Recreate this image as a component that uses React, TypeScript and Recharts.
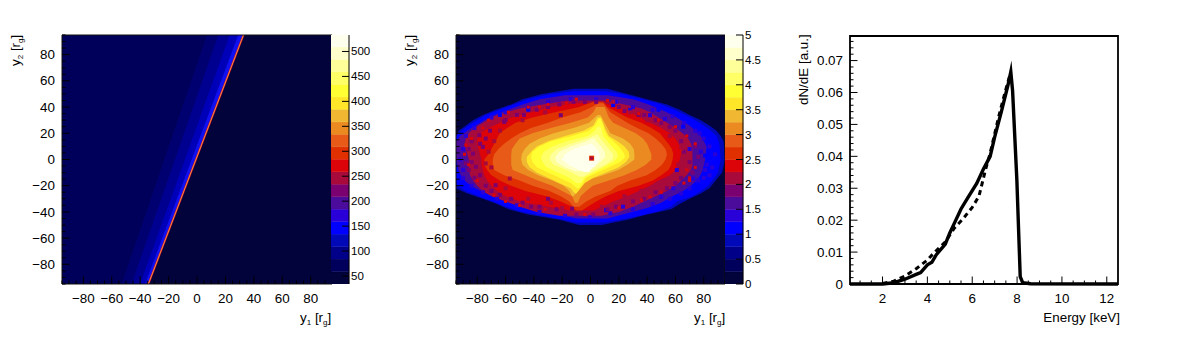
import { Area, Bar, BarChart, ComposedChart, Line, LineChart, ReferenceArea, Scatter, XAxis, YAxis } from "recharts"

const FONT = "'Liberation Sans', Arial, sans-serif"

// shared palette, lowest level first
const palette = [
  "#03033b", "#00005c", "#000088", "#0008b8", "#0000ff", "#2a00d8", "#4b0c9c", "#7b0070", "#a80a3c", "#dc0408",
  "#e03000", "#e85a18", "#ea8a20", "#f0b832", "#ffe628", "#ffff33", "#ffff66", "#ffff99", "#ffffcc", "#ffffee",
]

const mapTicks = [
  -95, -90, -85, -80, -75, -70, -65, -60, -55, -50, -45, -40, -35, -30, -25, -20, -15, -10, -5, 0, 5, 10, 15, 20, 25,
  30, 35, 40, 45, 50, 55, 60, 65, 70, 75, 80, 85, 90, 95,
]
const mapLabels = [-80, -60, -40, -20, 0, 20, 40, 60, 80]

// left map: bands of [colour, low x at y2=-95, low x at y2=95, high x at y2=-95, high x at y2=95]
const stripeBands: [string, number, number, number, number][] = [
  ["#03033b", -95, -95, 95, 95],
  ["#00005a", -95, -95, -34, 33],
  ["#000070", -53, 7, -34, 33],
  ["#000090", -46, 15, -34, 33],
  ["#0000b8", -40, 23, -34, 33],
  ["#1010f0", -36.5, 29, -34, 33],
  ["#d81c1c", -34.9, 32, -33.5, 33.4],
  ["#f6c468", -34.4, 32.5, -34, 32.9],
]

// middle map: contour rows [y2, left x, right x]
const edgeRows = [[-50, -8, 8], [-46, -22, 26], [-42, -44, 40], [-38, -58, 57], [-34, -66, 63], [-30, -76, 70], [-26, -87, 78], [-22, -95, 84], [-18, -95, 87], [-14, -95, 90], [-10, -95, 93], [0, -95, 95], [14, -95, 94], [18, -95, 92], [22, -93, 89], [26, -88, 84], [30, -83, 78], [34, -76, 70], [38, -67, 63], [42, -56, 54], [46, -48, 40], [50, -34, 26], [54, -12, 12]]
const blueRows = [[-48, -10, 10], [-44, -28, 30], [-40, -48, 46], [-36, -60, 57], [-32, -69, 61], [-28, -79, 72], [-24, -88, 78], [-20, -94, 83], [-16, -95, 86], [-10, -95, 90], [0, -95, 92], [12, -95, 91], [18, -95, 89], [22, -91, 85], [26, -86, 80], [30, -80, 74], [34, -74, 67], [38, -64, 59], [42, -54, 50], [46, -44, 37], [50, -28, 22], [52, -12, 10]]
const violetRows = [[-45, -10, 12], [-41, -28, 26], [-37, -46, 40], [-33, -56, 50], [-29, -66, 56], [-25, -76, 64], [-21, -83, 70], [-17, -88, 74], [-13, -91, 77], [-9, -93, 79], [0, -95, 81], [10, -95, 82], [14, -95, 80], [18, -92, 78], [22, -87, 74], [26, -81, 70], [30, -75, 64], [34, -68, 58], [38, -58, 50], [42, -48, 41], [46, -36, 30], [49, -18, 12]]
const crimsonRows = [[-43, -22, 8], [-40, -38, 20], [-36, -50, 30], [-32, -60, 38], [-28, -70, 46], [-24, -76, 54], [-20, -80, 60], [-16, -83, 64], [-12, -85, 68], [-8, -86, 71], [-4, -86, 72], [0, -86, 72], [4, -87, 72], [8, -88, 72], [12, -89, 71], [16, -88, 69], [20, -86, 65], [24, -82, 60], [28, -76, 54], [32, -70, 48], [36, -60, 42], [39, -50, 36], [42, -34, 24], [45, -16, 10]]
const redRows = [[-39, -14, 2], [-36, -30, 8], [-32, -50, 16], [-28, -60, 26], [-24, -66, 34], [-20, -70, 42], [-16, -73, 48], [-12, -75, 56], [-8, -76, 60], [-4, -77, 62], [0, -77, 63], [4, -78, 64], [8, -79, 64], [12, -80, 62], [16, -80, 60], [20, -78, 56], [24, -72, 50], [28, -64, 42], [32, -56, 35], [36, -42, 28], [40, -28, 20], [43, -12, 10]]
const scarletRows = [[-39, -10, -6], [-36, -13, -2], [-32, -21, 4], [-28, -31, 11], [-24, -46, 20], [-20, -56, 34], [-16, -64, 44], [-12, -70, 50], [-8, -73, 55], [-4, -75, 57], [0, -75, 58], [4, -72, 58.5], [8, -70, 57.5], [12, -68, 55], [16, -66, 52], [20, -64, 49], [24, -59, 43], [28, -53, 36], [32, -41, 26], [36, -25, 19], [40, -8, 12], [44, 2, 9]]
const burntRows = [[-36, -12, -8], [-32, -15, -3], [-28, -21, 4], [-24, -29, 14], [-20, -41, 19], [-16, -50, 28], [-12, -61, 39.7], [-8, -68, 46], [-4, -69, 50.5], [0, -69, 53], [4, -68, 54], [8, -65, 53], [12, -61, 50], [16, -56, 46], [20, -50, 41], [24, -42, 33], [28, -30, 26], [32, -20, 20], [36, -7, 14], [40, 1, 11], [43, 6, 9]]
const orangeRows = [[-33, -11, -9], [-28, -13, -7], [-24, -20, -3], [-20, -27, 1.5], [-16, -37, 13], [-12, -46, 24], [-8, -55, 32.6], [-4, -56, 39], [0, -56, 43], [4, -56, 43], [8, -55.5, 41.5], [12, -53, 40], [16, -50, 37], [20, -41, 32], [24, -28, 24], [28, -14, 16], [32, -2, 13], [36, 2, 11.5], [40, 4, 10]]
const goldRows = [[-28, -13, -12], [-24, -15, -9], [-20, -19, -6], [-16, -27, -3], [-12, -37, 9], [-8, -44, 19.6], [-4, -48, 26], [0, -49, 31], [4, -48.5, 31], [8, -46.5, 30.5], [12, -43, 28], [16, -36, 23], [20, -26, 14], [24, -12, 12], [28, -1, 10], [32, 3, 8], [34, 5, 7]]
const amberRows = [[-26, -11, -10], [-22, -14, -7], [-18, -22, -4], [-14, -30, 2], [-10, -38, 11], [-6, -43, 20], [-2, -45, 25], [2, -45, 27.5], [6, -42, 27], [10, -38, 24], [14, -30, 19], [18, -18, 13], [22, -5, 11], [26, 2, 9.5], [32, 5, 7.5]]
const yellowRows = [[-22, -9.5, -8], [-18, -14, -5.5], [-14, -22, -3], [-10, -30, 5], [-6, -38, 13], [-2, -41, 21], [2, -42, 24.5], [6, -41, 23], [10, -36, 20], [14, -28, 16], [18, -13, 12], [22, -1, 10], [26, 3, 9], [31, 6, 7]]
const lemonRows = [[-18, -10, -7], [-14, -15, -4.5], [-10, -23, 2], [-6, -31, 9], [-2, -34, 16], [2, -35, 19.5], [6, -33, 18.5], [10, -27, 15], [14, -17, 12], [18, -2, 9], [22, 3, 8], [25, 5, 7]]
const paleRows = [[-13, -8, -5], [-8, -17, 3], [-4, -26, 10.5], [0, -29, 15.5], [4, -28, 16], [8, -24, 13], [12, -14, 10], [16, -2, 7], [19, 4, 5]]
const creamRows = [[-9, -11, -3], [-6, -18, 3], [-2, -24, 7], [2, -25, 10.5], [6, -22, 10], [10, -14, 7.5], [14, -3, 4], [16, 1, 3]]
const whiteRows = [[-9.5, -4, -1], [-8, -8, 0], [-4, -15.5, 3.5], [0, -20, 6.5], [4, -18, 6.5], [8, -12, 4.5], [12, 0, 1]]

const outerContours: [number, number[][]][] = [[3, edgeRows], [4, blueRows], [6, violetRows], [8, crimsonRows], [9, redRows]]
const innerContours: [number, number[][]][] = [
  [10, scarletRows], [11, burntRows], [12, orangeRows], [13, goldRows], [14, amberRows], [15, yellowRows],
  [16, lemonRows], [17, paleRows], [18, creamRows], [19, whiteRows],
]

// mottled patches in the outer ring, [x, y2]
const rimSpots = [[83, 0.7], [85, -2], [81, 3], [86, 2], [65.5, 25], [16, 41.5], [68, -27], [70, 29], [48, 38], [-64, 34], [-44, 38], [76, -20]]
const indigoSpots = [[-70, 32], [-60, 36], [-44, 40], [-30, 44], [-14, 46], [4, 46], [18, 44], [30, 40], [44, 38], [58, 33], [66, 28], [74, 22], [80, 16], [84, 10], [78, 6], [82, -4], [86, -6], [88, 4], [76, -16], [80, -14], [84, -12], [70, -22], [64, -26], [56, -30], [44, -34], [30, -38], [14, -41], [-90, 8], [-92, 0], [-90, -8], [-88, 18], [-82, 24], [-90, -14], [-84, -20], [-76, -25], [-66, -30], [-52, -35], [-36, -40], [-18, -43], [0, -44], [42, 33.8], [28, 38], [52.6, 31], [58.5, -22], [50, -28.5], [23, -36], [11, -38.7], [72.6, -14.5], [81, -8], [70, 8], [61, -8], [77, 20]]
const plumSpots = [[-60, 30], [-52, 34], [-47, 34], [-38, 38], [-30, 40], [-22, 42], [-12, 44], [-4, 44], [4, 44], [20, 40], [24, 37], [34, 34], [38, 34], [46, 30], [50, 28], [56, 25], [60, 22], [-84, 14], [-86, 8], [-78, 12], [-74, 16], [-84, -2], [-86, -8], [-78, -12], [-82, -14], [-74, -20], [-70, -24], [-64, -27], [-56, -30], [-48, -33], [-36, -36], [-24, -38], [-10, -42], [2, -42], [12, -38], [18, -36], [30, -32], [38, -30], [46, -25], [54, -22], [60, -18], [64, 14], [66, 6], [70, -2], [72, -10], [74, 10], [76, 2], [64, -14], [-78.5, 18.5], [-76, 9.6], [-83, 4.5], [-81, -5.6], [-88, -3], [-67, -19.6], [-61, 28.7], [-21, 33.8], [-30, -30], [-42, -36], [-13, -37.5], [-71, 22]]
const crimsonSpots = [[-72, 6], [-70, -6], [-68, 14], [-74, -3], [-64, 22], [-48, 30], [-32, 36], [-60, -22], [-44, -30], [-28, -33], [-20, -37], [8, -36], [24, -28], [36, -24], [52, -17], [62, -4], [64, 8], [56, 18], [40, 30], [28, 36], [16, 44], [-57, -14.5]]
const redSpots = [[-89, 4], [-86, -4], [-84, 16], [-76, 24], [-72, 30], [-58, 36], [-44, 40], [-30, 42], [-10, 46], [12, 45], [34, 35], [48, 30], [60, 25], [68, 18], [74, 12], [74, -6], [70, -14], [66, -18], [50, -25], [36, -31], [20, -37], [-4, -42], [-32, -38], [-50, -35], [-68, -27], [-80, -16], [63, 7], [68, -8], [70, -16], [-88, 11], [-60, -32], [42, -28.5], [-36, 40], [-17, 43]]
const coreRing = [[0.8, 1]]
const coreDot = [[0.8, 1]]

// right panel: spectra, [energy, dN/dE]
const solidSpectrum = [[0.55, 0], [2, 0], [2.5, 0.0004], [3, 0.0015], [3.5, 0.003], [3.7, 0.0036], [4, 0.006], [4.2, 0.0068], [4.4, 0.0092], [4.8, 0.0125], [5, 0.016], [5.2, 0.019], [5.5, 0.0235], [5.8, 0.027], [6.2, 0.0315], [6.5, 0.036], [6.8, 0.04], [7, 0.046], [7.3, 0.054], [7.6, 0.0625], [7.72, 0.0665], [7.8, 0.0605], [7.99, 0.0326], [8.14, 0.0023], [8.25, 0.0004], [8.6, 0.0001], [12.5, 0]]
const dashedSpectrum = [[2, 0.0002], [2.5, 0.0009], [3, 0.0025], [3.5, 0.0048], [4, 0.0075], [4.3, 0.0098], [4.8, 0.0132], [5.2, 0.0175], [5.6, 0.0205], [6, 0.024], [6.3, 0.0275], [6.6, 0.036], [6.8, 0.041], [7.2, 0.053], [7.5, 0.061], [7.7, 0.066]]
const energyTicks = [1, 1.5, 2, 2.5, 3, 3.5, 4, 4.5, 5, 5.5, 6, 6.5, 7, 7.5, 8, 8.5, 9, 9.5, 10, 10.5, 11, 11.5, 12]
const energyLabels = [2, 4, 6, 8, 10, 12]
const fluxTicks = [0, 0.002, 0.004, 0.006, 0.008, 0.01, 0.012, 0.014, 0.016, 0.018, 0.02, 0.022, 0.024, 0.026, 0.028, 0.03, 0.032, 0.034, 0.036, 0.038, 0.04, 0.042, 0.044, 0.046, 0.048, 0.05, 0.052, 0.054, 0.056, 0.058, 0.06, 0.062, 0.064, 0.066, 0.068, 0.07, 0.072, 0.074, 0.076]
const fluxLabels = [0, 0.01, 0.02, 0.03, 0.04, 0.05, 0.06, 0.07]

const countTicks = [50, 100, 150, 200, 250, 300, 350, 400, 450, 500]
const ratioTicks = [0, 0.5, 1, 1.5, 2, 2.5, 3, 3.5, 4, 4.5, 5]

const toRows = (rows: number[][]) => rows.map(([y, l, r]) => ({ y, range: [l, r] }))
const toSpots = (spots: number[][]) => spots.map(([x, y]) => ({ x, y }))

const BottomTick = ({ x, y, payload, labels }: any) => {
  const major = labels.includes(payload.value)
  return (
    <g>
      <line x1={x} x2={x} y1={y} y2={y - (major ? 7.5 : 3.5)} stroke="#000" />
      {major && (
        <text x={x} y={y + 19} textAnchor="middle" fontFamily={FONT} fontSize={13.4} fill="#000">
          {String(payload.value).replace("-", "\u2212")}
        </text>
      )}
    </g>
  )
}

const LeftTick = ({ x, y, payload, labels, gap = 7 }: any) => {
  const major = labels.includes(payload.value)
  return (
    <g>
      <line x1={x} x2={x + (major ? 7.5 : 3.5)} y1={y} y2={y} stroke="#000" />
      {major && (
        <text x={x - gap} y={y + 4.6} textAnchor="end" fontFamily={FONT} fontSize={13.4} fill="#000">
          {String(payload.value).replace("-", "\u2212")}
        </text>
      )}
    </g>
  )
}

const ScaleTick = ({ x, y, payload }: any) => (
  <g>
    <line x1={x - 7} x2={x} y1={y} y2={y} stroke="#000" />
    <text x={x + 2} y={y + 4} fontFamily={FONT} fontSize={11.5} fill="#000">
      {payload.value}
    </text>
  </g>
)

const spots = (data: number[][], fill: string, size: number) => (
  <Scatter
    data={toSpots(data)}
    isAnimationActive={false}
    shape={(p: any) => <rect x={p.cx - size / 2} y={p.cy - size / 2} width={size} height={size} fill={fill} />}
  />
)

const contourArea = ([level, rows]: [number, number[][]]) => (
  <Area key={level} data={toRows(rows)} dataKey="range" type="linear" fill={palette[level]} fillOpacity={1} stroke="none" dot={false} activeDot={false} isAnimationActive={false} />
)

const YTitle = ({ x }: { x: number }) => (
  <text transform={`translate(${x},66) rotate(-90)`} fontFamily={FONT} fontSize={13.4} fill="#000">
    y<tspan fontSize={8} dy={3}>2</tspan>
    <tspan dy={-3}> [r</tspan>
    <tspan fontSize={8} dy={3}>g</tspan>
    <tspan dy={-3}>]</tspan>
  </text>
)

const XTitle = ({ x }: { x: number }) => (
  <text x={x} y={322} fontFamily={FONT} fontSize={13.4} fill="#000">
    y<tspan fontSize={8} dy={3}>1</tspan>
    <tspan dy={-3}> [r</tspan>
    <tspan fontSize={8} dy={3}>g</tspan>
    <tspan dy={-3}>]</tspan>
  </text>
)

const frame = (left: number, width: number, children: any) => (
  <div style={{ position: "absolute", left, top: 0, width, height: 356 }}>{children}</div>
)

const mapAxes = (
  <>
    <XAxis dataKey="x" type="number" domain={[-95, 95]} ticks={mapTicks} interval={0} height={72} axisLine={false} tickLine={false} tickSize={0} tickMargin={0} tick={<BottomTick labels={mapLabels} />} allowDataOverflow />
    <YAxis dataKey="y" type="number" domain={[-95, 95]} ticks={mapTicks} interval={0} width={60} reversed axisLine={false} tickLine={false} tickSize={0} tickMargin={0} tick={<LeftTick labels={mapLabels} />} allowDataOverflow />
    <ReferenceArea x1={-95} x2={95} y1={-95} y2={95} fill="none" stroke="#111" strokeWidth={1} fillOpacity={0} />
  </>
)

const StripeMap = () => (
  <ComposedChart width={332} height={356} layout="vertical" margin={{ top: 35, right: 0, bottom: 0, left: 2 }}>
    {stripeBands.map(([fill, lo0, lo1, hi0, hi1]) => (
      <Area
        key={fill}
        data={[{ y: -95, range: [lo0, hi0] }, { y: 95, range: [lo1, hi1] }]}
        dataKey="range"
        type="linear"
        fill={fill}
        fillOpacity={1}
        stroke="none"
        dot={false}
        activeDot={false}
        isAnimationActive={false}
      />
    ))}
    {mapAxes}
    <YTitle x={20} />
    <XTitle x={300} />
  </ComposedChart>
)

const EllipseMap = () => (
  <ComposedChart width={329} height={356} layout="vertical" margin={{ top: 35, right: 0, bottom: 0, left: 0 }}>
    <Area data={[{ y: -95, range: [-95, 95] }, { y: 95, range: [-95, 95] }]} dataKey="range" type="linear" fill={palette[0]} fillOpacity={1} stroke="none" dot={false} activeDot={false} isAnimationActive={false} />
    {outerContours.map(contourArea)}
    {spots(rimSpots, palette[4], 4)}
    {spots(indigoSpots, palette[5], 4)}
    {spots(plumSpots, palette[7], 4)}
    {spots(crimsonSpots, palette[8], 4)}
    {spots(redSpots, palette[9], 3)}
    {innerContours.map(contourArea)}
    {spots(coreRing, palette[10], 5)}
    {spots(coreDot, palette[8], 3)}
    {mapAxes}
    <YTitle x={18} />
    <XTitle x={298} />
  </ComposedChart>
)

const levelRow = (base: number, step: number) => {
  const row: Record<string, number> = { base }
  palette.forEach((_, i) => (row[`l${i}`] = step))
  return [row]
}

const ColorScale = ({ base, step, top, ticks }: { base: number; step: number; top: number; ticks: number[] }) => (
  <BarChart width={62} height={356} data={levelRow(base, step)} barCategoryGap={0} margin={{ top: 35, right: 0, bottom: 72, left: 0 }}>
    <XAxis hide type="category" />
    <Bar dataKey="base" stackId="s" fill="none" isAnimationActive={false} />
    {palette.map((fill, i) => (
      <Bar key={fill} dataKey={`l${i}`} stackId="s" fill={fill} stroke={fill} strokeWidth={0.4} isAnimationActive={false} />
    ))}
    <YAxis orientation="right" type="number" domain={[base, top]} ticks={ticks} interval={0} width={44} allowDataOverflow tickLine={false} tickSize={0} tickMargin={0} stroke="#000" tick={<ScaleTick />} />
  </BarChart>
)

const Spectrum = () => (
  <LineChart width={332} height={356} margin={{ top: 36, right: 4, bottom: 0, left: 0 }}>
    <Line data={solidSpectrum.map(([e, f]) => ({ e, f }))} dataKey="f" stroke="#000" strokeWidth={3.4} strokeLinejoin="miter" strokeMiterlimit={14} dot={false} activeDot={false} isAnimationActive={false} />
    <Line data={dashedSpectrum.map(([e, f]) => ({ e, f }))} dataKey="f" stroke="#000" strokeWidth={3} strokeDasharray="5 4" dot={false} activeDot={false} isAnimationActive={false} />
    <XAxis dataKey="e" type="number" domain={[0.55, 12.5]} ticks={energyTicks} interval={0} height={72} axisLine={false} tickLine={false} tickSize={0} tickMargin={0} tick={<BottomTick labels={energyLabels} />} />
    <YAxis type="number" domain={[0, 0.0777]} ticks={fluxTicks} interval={0} width={60} axisLine={false} tickLine={false} tickSize={0} tickMargin={0} tick={<LeftTick labels={fluxLabels} />} />
    <ReferenceArea x1={0.55} x2={12.5} y1={0} y2={0.0777} fill="none" fillOpacity={0} stroke="#000" strokeWidth={1.8} />
    <text transform="translate(18,105) rotate(-90)" fontFamily={FONT} fontSize={13.4} fill="#000">dN/dE [a.u.]</text>
    <text x={330} y={322} textAnchor="end" fontFamily={FONT} fontSize={13.4} fill="#000">Energy [keV]</text>
  </LineChart>
)

export default function App() {
  return (
    <div style={{ position: "absolute", left: 0, top: 0, width: 1181, height: 356, overflow: "hidden", background: "#fff" }}>
      {frame(0, 332, <StripeMap />)}
      {frame(331, 62, <ColorScale base={34} step={25} top={533} ticks={countTicks} />)}
      {frame(396, 329, <EllipseMap />)}
      {frame(725, 62, <ColorScale base={0} step={0.25} top={5} ticks={ratioTicks} />)}
      {frame(790, 332, <Spectrum />)}
    </div>
  )
}
